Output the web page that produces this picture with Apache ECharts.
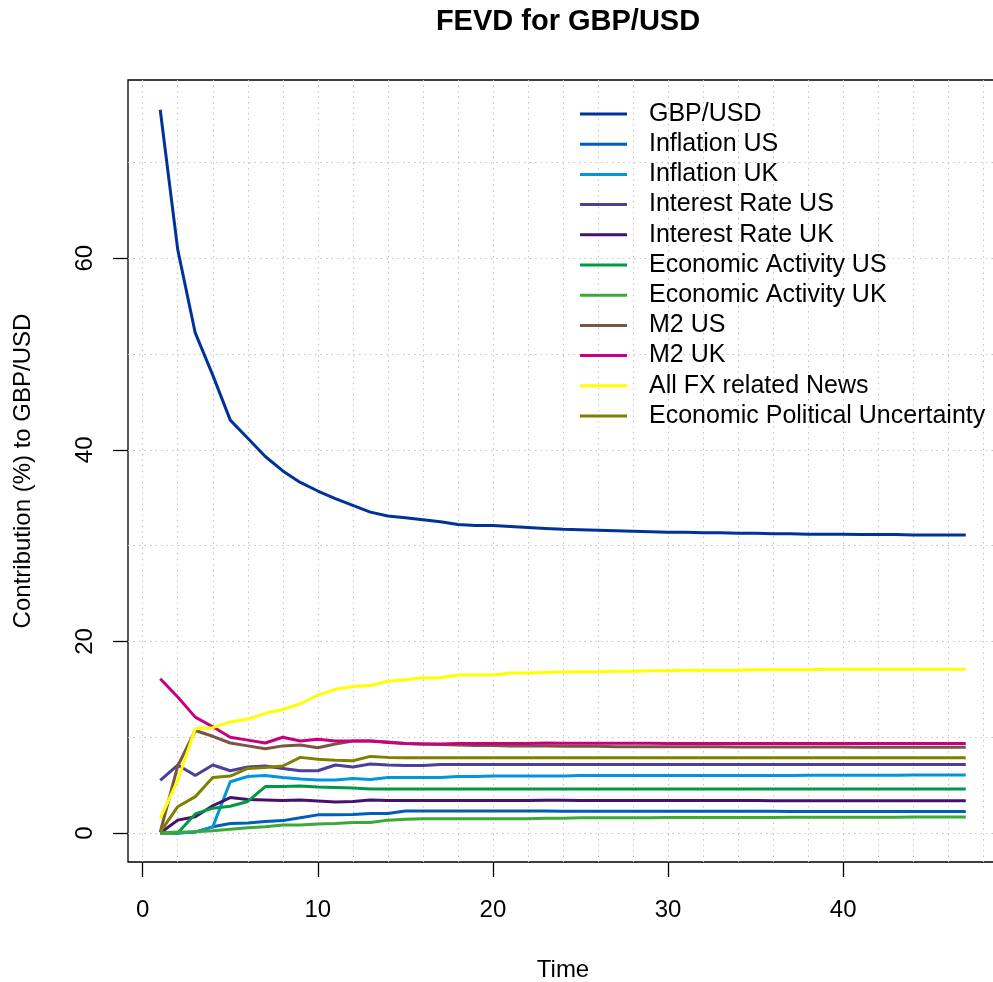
<!DOCTYPE html>
<html>
<head>
<meta charset="utf-8">
<script src="https://cdn.jsdelivr.net/npm/echarts@6/dist/echarts.min.js"></script>
<style>html,body{margin:0;padding:0;background:#fff}#c{width:993px;height:982px}</style>
</head>
<body>
<div id="c"></div>
<script>
const time = [1,2,3,4,5,6,7,8,9,10,11,12,13,14,15,16,17,18,19,20,21,22,23,24,25,26,27,28,29,30,31,32,33,34,35,36,37,38,39,40,41,42,43,44,45,46,47];

const seriesNames = ["GBP/USD","Inflation US","Inflation UK","Interest Rate US","Interest Rate UK","Economic Activity US","Economic Activity UK","M2 US","M2 UK","All FX related News","Economic Political Uncertainty"];

const gbpusd = [75.5,60.9,52.2,47.8,43.1,41.2,39.3,37.8,36.6,35.7,34.9,34.2,33.5,33.1,32.9,32.7,32.5,32.2,32.1,32.1,32.0,31.9,31.8,31.7,31.65,31.6,31.55,31.5,31.45,31.4,31.4,31.35,31.35,31.3,31.3,31.25,31.25,31.2,31.2,31.2,31.15,31.15,31.15,31.1,31.1,31.1,31.1];
const inflUS = [0,0,0.1,0.65,1.0,1.05,1.2,1.3,1.6,1.9,1.9,1.95,2.05,2.05,2.3,2.3,2.3,2.3,2.3,2.3,2.3,2.3,2.3,2.28,2.28,2.28,2.28,2.28,2.28,2.27,2.27,2.27,2.27,2.27,2.27,2.27,2.26,2.26,2.26,2.26,2.26,2.26,2.26,2.26,2.26,2.26,2.26];
const inflUK = [0.05,0,0.1,0.65,5.35,5.9,6.0,5.8,5.65,5.55,5.55,5.7,5.6,5.8,5.8,5.8,5.8,5.9,5.9,5.95,5.95,5.95,5.95,5.95,6.0,6.0,6.0,6.0,6.0,6.0,6.0,6.0,6.0,6.02,6.02,6.02,6.02,6.03,6.03,6.03,6.04,6.04,6.04,6.05,6.05,6.05,6.05];
const irUS = [5.5,7.1,6.0,7.1,6.5,6.9,7.0,6.75,6.5,6.5,7.1,6.9,7.2,7.1,7.05,7.05,7.15,7.15,7.15,7.15,7.15,7.15,7.15,7.15,7.15,7.15,7.15,7.15,7.15,7.15,7.15,7.15,7.15,7.15,7.15,7.15,7.15,7.15,7.15,7.15,7.15,7.15,7.15,7.15,7.15,7.15,7.15];
const irUK = [0,1.35,1.7,2.85,3.7,3.5,3.45,3.4,3.45,3.35,3.25,3.3,3.45,3.4,3.4,3.4,3.4,3.4,3.4,3.4,3.4,3.4,3.42,3.42,3.4,3.4,3.4,3.4,3.4,3.4,3.4,3.4,3.4,3.4,3.4,3.38,3.38,3.38,3.38,3.38,3.38,3.38,3.38,3.38,3.38,3.38,3.38];
const eaUS = [0,0,2.0,2.6,2.8,3.3,4.85,4.85,4.9,4.8,4.75,4.7,4.6,4.6,4.6,4.6,4.6,4.6,4.6,4.6,4.6,4.6,4.6,4.6,4.6,4.6,4.6,4.6,4.6,4.6,4.6,4.6,4.6,4.6,4.6,4.6,4.6,4.6,4.6,4.6,4.6,4.6,4.6,4.6,4.6,4.6,4.6];
const eaUK = [0,0.1,0.15,0.25,0.4,0.55,0.65,0.85,0.85,0.95,1.0,1.1,1.1,1.35,1.45,1.5,1.5,1.5,1.5,1.5,1.5,1.5,1.55,1.55,1.6,1.6,1.6,1.6,1.6,1.62,1.62,1.62,1.62,1.63,1.63,1.63,1.64,1.64,1.65,1.65,1.65,1.66,1.66,1.67,1.67,1.67,1.67];
const m2US = [0.1,7.0,10.7,10.1,9.4,9.1,8.8,9.1,9.2,8.9,9.3,9.6,9.6,9.5,9.35,9.3,9.25,9.2,9.15,9.15,9.1,9.1,9.1,9.05,9.05,9.05,9.0,9.0,9.0,9.0,9.0,9.0,9.0,8.98,8.98,8.98,8.98,8.97,8.97,8.97,8.96,8.96,8.96,8.95,8.95,8.95,8.95];
const m2UK = [16.1,14.2,12.1,11.1,10.0,9.7,9.4,10.0,9.6,9.8,9.6,9.6,9.6,9.45,9.35,9.3,9.3,9.35,9.35,9.35,9.35,9.35,9.4,9.38,9.38,9.37,9.37,9.37,9.37,9.36,9.36,9.36,9.36,9.36,9.36,9.36,9.36,9.36,9.36,9.36,9.36,9.36,9.36,9.36,9.36,9.36,9.36];
const fxNews = [1.5,5.5,10.9,11.0,11.6,11.9,12.5,12.9,13.5,14.4,15.0,15.3,15.4,15.85,16.0,16.2,16.2,16.5,16.5,16.5,16.7,16.7,16.75,16.8,16.85,16.85,16.9,16.9,16.95,16.95,17.0,17.0,17.0,17.0,17.05,17.05,17.05,17.05,17.1,17.1,17.1,17.1,17.1,17.1,17.1,17.1,17.1];
const epu = [0.1,2.75,3.8,5.8,5.95,6.75,6.85,7.0,7.9,7.7,7.6,7.55,8.0,7.9,7.85,7.85,7.86,7.86,7.86,7.86,7.86,7.86,7.86,7.86,7.86,7.86,7.86,7.86,7.86,7.86,7.86,7.86,7.86,7.86,7.86,7.86,7.86,7.86,7.86,7.86,7.86,7.86,7.86,7.86,7.86,7.86,7.86];

const xTicks = [0,10,20,30,40];
const yTicks = [0,20,40,60];
const xGrid = [0,2,4,6,8,10,12,14,16,18,20,22,24,26,28,30,32,34,36,38,40,42,44,46,48];
const yGrid = [0,10,20,30,40,50,60,70];

const colors = ["#003399","#005EB8","#0096DC","#4B3F9A","#46106E","#009944","#3AAA35","#7B5544","#C8007F","#FFFF00","#808000"];
const allData = [gbpusd,inflUS,inflUK,irUS,irUK,eaUS,eaUK,m2US,m2UK,fxNews,epu];

const FONT = "Liberation Sans, Arial, Helvetica, sans-serif";
const xMin = -0.84, xMax = 48.84, yMin = -3.02, yMax = 78.6;
const gridStyle = {show:true, lineStyle:{color:"#c4c4c4", width:1, type:[1.5,4]}};

const chart = echarts.init(document.getElementById('c'), null, {renderer:'canvas'});
chart.setOption({
  animation:false,
  backgroundColor:'#fff',
  color: colors,
  title:{text:"FEVD for GBP/USD", left:563, textAlign:'center', top:2,
    textStyle:{fontFamily:FONT, fontSize:29, fontWeight:'bold', color:'#000'}},
  legend:{
    orient:'vertical', left:580, top:99, padding:0, itemWidth:47, itemHeight:3, itemGap:0.2,
    icon:'rect',
    data: seriesNames,
    textStyle:{fontFamily:FONT, fontSize:25, color:'#000', lineHeight:30, padding:[0,0,0,17]}
  },
  grid:{left:128, top:80, width:870, height:782, show:true, borderColor:'#000', borderWidth:1.3,
    backgroundColor:'transparent', containLabel:false, outerBoundsMode:'none'},
  xAxis:[
    {type:'value', min:xMin, max:xMax, position:'bottom',
     name:'Time', nameLocation:'middle', nameGap:96,
     nameTextStyle:{fontFamily:FONT, fontSize:24, color:'#000'},
     axisLine:{show:false, onZero:false},
     axisTick:{show:true, inside:false, length:15, customValues:xTicks, lineStyle:{color:'#000', width:1.3}},
     axisLabel:{show:true, customValues:xTicks, margin:36, fontFamily:FONT, fontSize:24, color:'#000'},
     splitLine:{show:false}},
    {type:'value', min:xMin, max:xMax, position:'bottom',
     axisLine:{show:false, onZero:false}, axisTick:{show:false, customValues:xGrid}, axisLabel:{show:false},
     splitLine:gridStyle}
  ],
  yAxis:[
    {type:'value', min:yMin, max:yMax, position:'left',
     name:'Contribution (%) to GBP/USD', nameLocation:'middle', nameGap:93,
     nameTextStyle:{fontFamily:FONT, fontSize:24, color:'#000'},
     axisLine:{show:false, onZero:false},
     axisTick:{show:true, inside:false, length:15, customValues:yTicks, lineStyle:{color:'#000', width:1.3}},
     axisLabel:{show:true, customValues:yTicks, rotate:90, margin:31, fontFamily:FONT, fontSize:24, color:'#000'},
     splitLine:{show:false}},
    {type:'value', min:yMin, max:yMax, position:'left',
     axisLine:{show:false, onZero:false}, axisTick:{show:false, customValues:yGrid}, axisLabel:{show:false},
     splitLine:gridStyle}
  ],
  series: seriesNames.map((n,i)=>({
    name:n, type:'line', xAxisIndex:0, yAxisIndex:0,
    data: time.map((t,j)=>[t, allData[i][j]]),
    showSymbol:false, symbol:'none', smooth:false,
    lineStyle:{width:3, color:colors[i]}, itemStyle:{color:colors[i]}
  }))
});
</script>
</body>
</html>
